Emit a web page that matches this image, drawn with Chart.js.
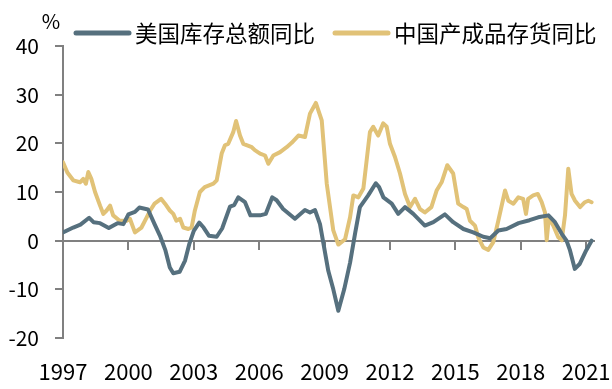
<!DOCTYPE html>
<html>
<head>
<meta charset="utf-8">
<script src="https://cdn.jsdelivr.net/npm/chart.js@4"></script>
<style>
  html, body { margin: 0; padding: 0; background: #fff; }
</style>
</head>
<body>
<canvas id="inventoryChart" width="612" height="389"></canvas>
<script>
// year ticks on the x axis and value ticks on the y axis
const tickYears = [1997, 2000, 2003, 2006, 2009, 2012, 2015, 2018, 2021];
const yTicks = [-20, -10, 0, 10, 20, 30, 40];

// 美国库存总额同比
const usYears = [1997.0, 1997.47, 1997.8, 1998.2, 1998.4, 1998.7, 1999.1, 1999.5, 1999.77, 2000.0, 2000.3, 2000.5,
  2000.9, 2001.2, 2001.45, 2001.7, 2001.9, 2002.06, 2002.35, 2002.6, 2002.8, 2003.0, 2003.25, 2003.45,
  2003.7, 2004.05, 2004.3, 2004.66, 2004.85, 2005.04, 2005.35, 2005.6, 2006.04, 2006.3, 2006.6, 2006.8,
  2007.1, 2007.64, 2008.1, 2008.33, 2008.56, 2008.79, 2009.17, 2009.4, 2009.63, 2009.9, 2010.17, 2010.4,
  2010.62, 2011.0, 2011.35, 2011.5, 2011.7, 2012.08, 2012.38, 2012.69, 2013.07, 2013.6, 2013.99, 2014.52,
  2014.9, 2015.37, 2015.82, 2016.28, 2016.6, 2016.97, 2017.35, 2017.9, 2018.4, 2018.8, 2019.27, 2019.57,
  2019.88, 2020.1, 2020.26, 2020.48, 2020.7, 2021.0, 2021.25];
const usValues = [1.7, 2.7, 3.3, 4.7, 3.8, 3.6, 2.6, 3.6, 3.4, 5.4, 5.9, 6.8,
  6.4, 3.4, 1.0, -2.0, -5.5, -6.7, -6.4, -4.1, -0.6, 2.0, 3.7, 2.7,
  1.0, 0.8, 2.5, 7.0, 7.3, 8.9, 7.9, 5.2, 5.2, 5.5, 8.9, 8.3,
  6.5, 4.5, 6.3, 5.8, 6.3, 3.4, -6.2, -10.0, -14.4, -10.0, -4.5, 1.5,
  6.9, 9.3, 11.8, 11.0, 8.9, 7.6, 5.5, 6.9, 5.5, 3.1, 3.8, 5.4,
  3.8, 2.4, 1.7, 0.8, 0.5, 2.1, 2.4, 3.6, 4.2, 4.8, 5.2, 3.8,
  1.4, 0.0, -2.0, -5.8, -4.8, -2.0, 0.0];

// 中国产成品存货同比
const cnYears = [1997.0, 1997.2, 1997.47, 1997.78, 1997.93, 1998.05, 1998.16, 1998.3, 1998.47, 1998.7, 1998.85, 1999.0,
  1999.16, 1999.3, 1999.6, 1999.92, 2000.07, 2000.3, 2000.6, 2000.84, 2001.0, 2001.2, 2001.5, 2001.68,
  2001.9, 2002.06, 2002.2, 2002.37, 2002.52, 2002.75, 2002.9, 2003.05, 2003.28, 2003.5, 2003.9, 2004.05,
  2004.28, 2004.43, 2004.58, 2004.81, 2004.94, 2005.12, 2005.27, 2005.66, 2005.8, 2006.04, 2006.27, 2006.42,
  2006.65, 2006.96, 2007.26, 2007.49, 2007.8, 2008.1, 2008.33, 2008.6, 2008.87, 2009.1, 2009.4, 2009.63,
  2009.94, 2010.17, 2010.32, 2010.55, 2010.78, 2010.93, 2011.08, 2011.23, 2011.46, 2011.69, 2011.85, 2012.0,
  2012.23, 2012.46, 2012.69, 2012.92, 2013.15, 2013.38, 2013.6, 2013.9, 2014.14, 2014.37, 2014.63, 2014.9,
  2015.13, 2015.37, 2015.52, 2015.67, 2015.9, 2016.05, 2016.28, 2016.51, 2016.74, 2016.97, 2017.28, 2017.43,
  2017.66, 2017.89, 2018.11, 2018.24, 2018.34, 2018.57, 2018.78, 2018.96, 2019.11, 2019.19, 2019.29, 2019.49,
  2019.72, 2019.88, 2020.03, 2020.18, 2020.33, 2020.49, 2020.72, 2020.94, 2021.1, 2021.25];
const cnValues = [16.1, 14.0, 12.4, 12.0, 12.7, 11.7, 14.1, 12.7, 10.0, 7.2, 5.5, 6.2,
  7.2, 5.2, 4.1, 4.1, 4.5, 1.7, 2.7, 4.8, 6.2, 7.6, 8.6, 7.6,
  6.2, 5.5, 4.1, 4.5, 2.7, 2.4, 2.7, 6.2, 10.0, 11.0, 11.7, 12.4,
  17.9, 19.6, 19.9, 22.3, 24.6, 21.6, 19.9, 19.2, 18.6, 17.9, 17.5, 15.8,
  17.5, 18.2, 19.2, 20.1, 21.6, 21.3, 26.1, 28.3, 24.7, 11.7, 2.1, -0.8,
  0.3, 4.8, 9.3, 8.9, 10.7, 16.5, 22.3, 23.4, 21.6, 24.1, 23.4, 19.9,
  17.2, 13.8, 9.6, 6.9, 8.6, 6.5, 5.8, 6.9, 10.3, 12.0, 15.5, 13.8,
  7.6, 6.9, 6.5, 4.1, 3.1, 0.7, -1.4, -1.9, -0.3, 4.1, 10.3, 8.2,
  7.6, 8.9, 8.6, 5.5, 8.6, 9.3, 9.6, 7.9, 5.8, 0.1, 4.8, 3.1,
  0.7, 0.1, 5.2, 14.8, 9.6, 8.2, 6.9, 7.9, 8.2, 7.9];

const axisGray = '#808080';
const fontFamily = '"Noto Sans CJK SC", "Noto Sans", sans-serif';

const toPoints = (xs, ys) => xs.map((x, i) => ({ x: x, y: ys[i] }));
const setYearTicks = axis => { axis.ticks = tickYears.map(v => ({ value: v })); };

// "%" unit above the y axis and a line-style legend across the top
const topLabels = {
  id: 'topLabels',
  afterDraw(chart) {
    const { ctx, scales: { y } } = chart;
    ctx.save();
    ctx.fillStyle = '#000';
    ctx.textBaseline = 'middle';

    ctx.font = '20px ' + fontFamily;
    ctx.textAlign = 'center';
    ctx.fillText('%', y.right - 12, y.getPixelForValue(40) - 25);

    ctx.font = '22.5px ' + fontFamily;
    ctx.textAlign = 'left';
    ctx.lineCap = 'round';
    ctx.lineWidth = 5;
    let x = 76;
    const legendY = 33;
    chart.data.datasets.forEach(ds => {
      ctx.strokeStyle = ds.borderColor;
      ctx.beginPath();
      ctx.moveTo(x, legendY);
      ctx.lineTo(x + 53, legendY);
      ctx.stroke();
      x += 59;
      ctx.fillText(ds.label, x, legendY);
      x += ctx.measureText(ds.label).width + 20;
    });
    ctx.restore();
  }
};

const ctx = document.getElementById('inventoryChart').getContext('2d');
new Chart(ctx, {
  type: 'line',
  data: {
    datasets: [
      {
        label: '美国库存总额同比',
        data: toPoints(usYears, usValues),
        borderColor: '#56707e',
        borderWidth: 4,
        borderCapStyle: 'round',
        borderJoinStyle: 'round',
        pointRadius: 0,
        tension: 0,
        xAxisID: 'x'
      },
      {
        label: '中国产成品存货同比',
        data: toPoints(cnYears, cnValues),
        borderColor: '#e1c277',
        borderWidth: 4,
        borderCapStyle: 'round',
        borderJoinStyle: 'round',
        pointRadius: 0,
        tension: 0,
        xAxisID: 'x'
      }
    ]
  },
  options: {
    responsive: false,
    animation: false,
    layout: { padding: { top: 46, right: 18, left: 0, bottom: 0 } },
    plugins: {
      tooltip: { enabled: false },
      legend: { display: false }
    },
    scales: {
      x: {
        type: 'linear',
        position: 'bottom',
        min: 1997,
        max: 2021.36,
        afterBuildTicks: setYearTicks,
        afterFit: axis => {
          axis.height = 51;
          axis.paddingLeft = 0;
          axis.paddingRight = 0;
        },
        grid: { display: false, drawTicks: false },
        border: { display: false },
        ticks: {
          color: '#000',
          padding: 20,
          maxRotation: 0,
          autoSkip: false,
          font: { size: 22, family: fontFamily },
          callback: v => String(v)
        }
      },
      x0: {
        type: 'linear',
        position: { y: 0 },
        min: 1997,
        max: 2021.36,
        afterBuildTicks: setYearTicks,
        grid: { display: true, drawOnChartArea: false, drawTicks: true, tickLength: 8, color: axisGray, lineWidth: 2 },
        border: { display: true, color: axisGray, width: 2 },
        ticks: { display: false }
      },
      y: {
        min: -20,
        max: 40,
        afterBuildTicks: axis => { axis.ticks = yTicks.map(v => ({ value: v })); },
        afterFit: axis => { axis.width = 63; },
        grid: { display: true, drawOnChartArea: false, drawTicks: true, tickLength: 8, color: axisGray, lineWidth: 2 },
        border: { display: true, color: axisGray, width: 2 },
        ticks: {
          color: '#000',
          padding: 16,
          font: { size: 21, family: fontFamily }
        }
      }
    }
  },
  plugins: [topLabels]
});
</script>
</body>
</html>
